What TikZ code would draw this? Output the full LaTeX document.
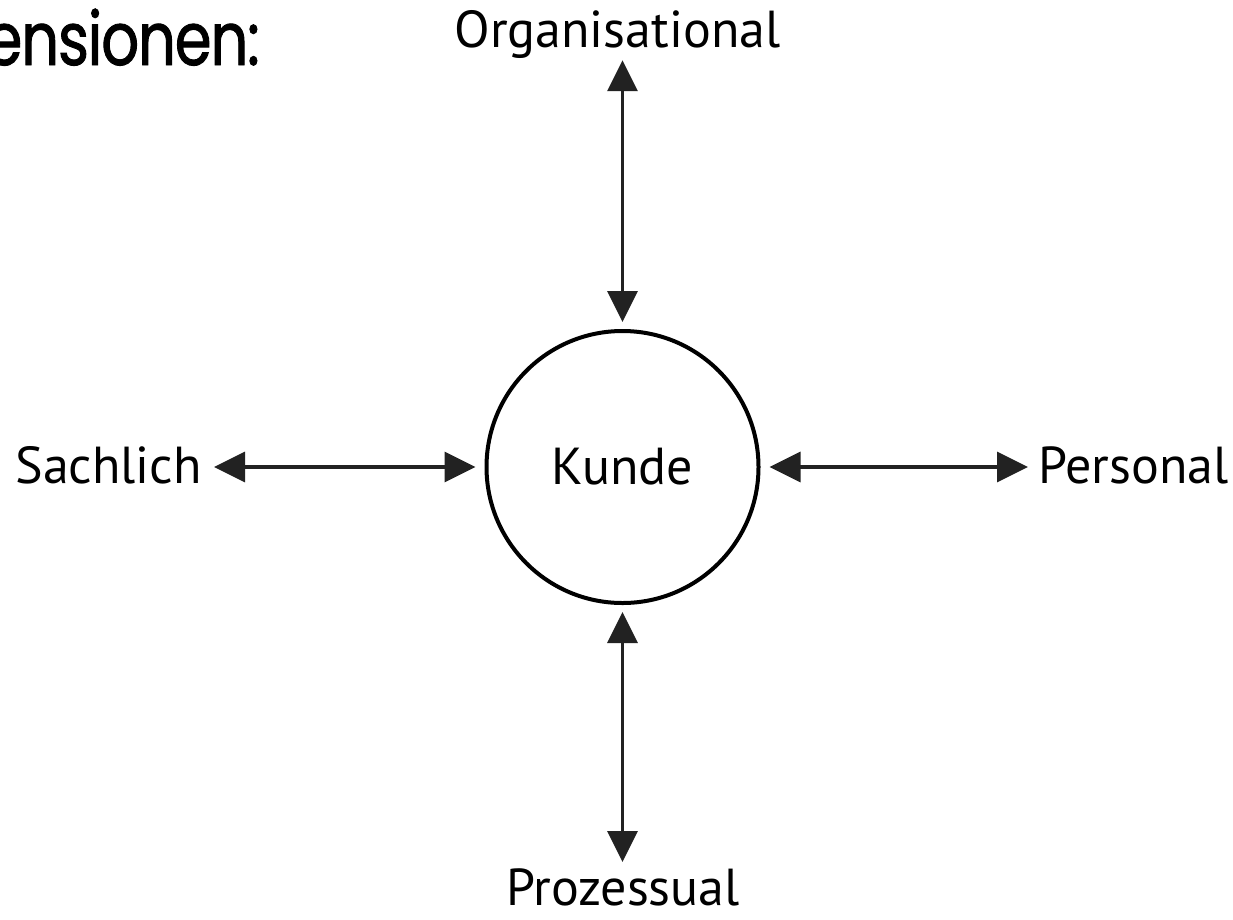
\documentclass[tikz,border=0pt]{standalone}
\usepackage{fontspec}
\setmainfont{PT Sans}
\newfontfamily\titlefont{Poppins}[FakeBold=1.2,FakeStretch=0.8,LetterSpace=-1.5]
\usetikzlibrary{arrows.meta}
\definecolor{arrowgray}{HTML}{222222}
\tikzset{
  lbl/.style={inner sep=0pt, font=\fontsize{52}{60}\selectfont},
  arr/.style={arrowgray, line width=3.5pt, {Triangle[length=31pt,width=30pt]}-{Triangle[length=31pt,width=30pt]}},
  hub/.style={circle, draw=black, line width=4pt, minimum size=272pt, inner sep=0pt, font=\fontsize{52}{60}\selectfont}
}
\begin{document}
\begin{tikzpicture}[x=1pt,y=-1pt]
\useasboundingbox (0,0) rectangle (1233,919);
\node[anchor=base east, inner sep=0pt, font=\titlefont\fontsize{74}{82}\selectfont] (title) at (260,65) {Dimensionen:};
\node[hub] (Kunde) at (622.5,467) {Kunde};
\node[lbl, anchor=base] (org) at (617.5,47) {Organisational};
\node[lbl, anchor=base] (proz) at (623,905) {Prozessual};
\node[lbl, anchor=base east] (sach) at (202,483) {Sachlich};
\node[lbl, anchor=base west] (pers) at (1038,483) {Personal};
\draw[arr, shorten <=7pt, shorten >=2pt] (Kunde.north) -- (Kunde.north |- org.south);
\draw[arr, shorten <=7pt, shorten >=6pt] (Kunde.south) -- (Kunde.south |- proz.north);
\draw[arr, shorten <=9pt, shorten >=12pt] (Kunde.west) -- (Kunde.west -| sach.east);
\draw[arr, shorten <=9pt, shorten >=10pt] (Kunde.east) -- (Kunde.east -| pers.west);
\end{tikzpicture}
\end{document}
